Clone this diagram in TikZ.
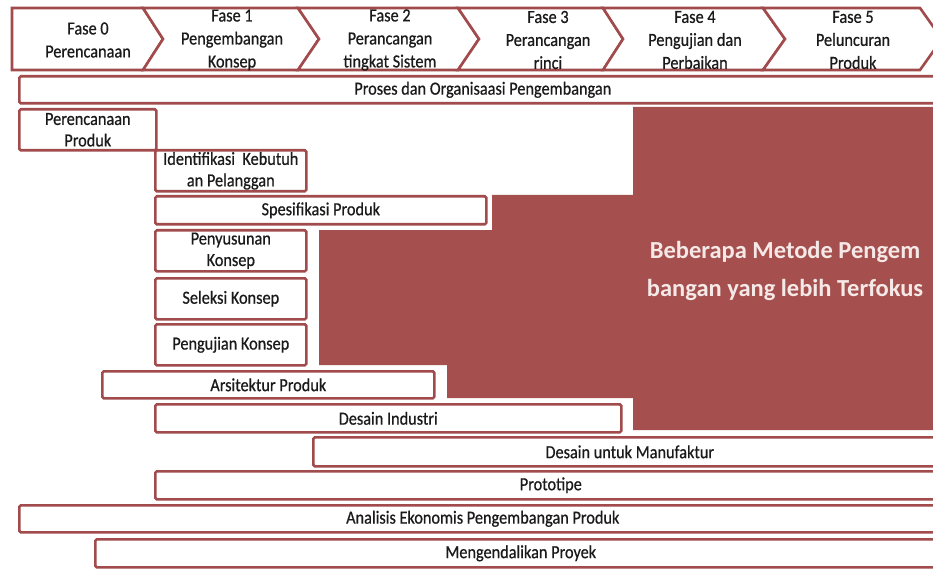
\documentclass[tikz,border=0pt]{standalone}
\usepackage{fontspec}
\setmainfont{Carlito}
\newfontfamily\condfont[FakeStretch=0.88,FakeBold=0.6]{Carlito}
\definecolor{bord}{HTML}{A24B4D}
\definecolor{redfill}{HTML}{A5504E}
\definecolor{txtw}{HTML}{F5E9E8}
\definecolor{txtk}{HTML}{1A1A1A}
\tikzset{
  box/.style={draw=bord, line width=2.6pt, fill=white, rounded corners=1.5pt,
    inner sep=0pt, font=\condfont\fontsize{18.5}{21.5}\selectfont, align=center, text=txtk,
    anchor=north west},
  chev/.style={draw=bord, line width=2.6pt, fill=white, line join=miter},
  chevtext/.style={font=\condfont\fontsize{18.5}{23}\selectfont, align=center, text=txtk, inner sep=0pt},
  bigtext/.style={font=\fontsize{24.5}{38}\selectfont\bfseries, align=center, text=txtw, inner sep=0pt}
}
\begin{document}
\begin{tikzpicture}[x=1pt,y=-1pt]
\clip (0,0) rectangle (933,569);
\fill[white] (0,0) rectangle (933,569);

% red focus area
\fill[redfill] (633,107) -- (940,107) -- (940,430) -- (633,430) -- (633,398)
  -- (447,398) -- (447,365) -- (319,365) -- (319,230) -- (492,230)
  -- (492,195) -- (633,195) -- cycle;
\node[bigtext] (focus) at (785,271) {Beberapa Metode Pengem\\bangan yang lebih Terfokus};

% phase chevrons
\draw[chev] (12,8) -- (143,8) -- (163,39) -- (143,70) -- (12,70) -- cycle;
\draw[chev] (143,8) -- (298,8) -- (319,39) -- (298,70) -- (143,70) -- (163,39) -- cycle;
\draw[chev] (298,8) -- (458,8) -- (479,39) -- (458,70) -- (298,70) -- (319,39) -- cycle;
\draw[chev] (458,8) -- (603,8) -- (623,39) -- (603,70) -- (458,70) -- (479,39) -- cycle;
\draw[chev] (603,8) -- (763,8) -- (785,39) -- (763,70) -- (603,70) -- (623,39) -- cycle;
\draw[chev] (763,8) -- (920,8) -- (942,39) -- (920,70) -- (763,70) -- (785,39) -- cycle;
\node[chevtext] (f0) at (88,40) {Fase 0\\Perencanaan};
\node[chevtext] (f1) at (232,40) {Fase 1\\Pengembangan\\Konsep};
\node[chevtext] (f2) at (390,40) {Fase 2\\Perancangan\\tingkat Sistem};
\node[chevtext] (f3) at (548,40) {Fase 3\\Perancangan\\rinci};
\node[chevtext] (f4) at (695,40) {Fase 4\\Pengujian dan\\Perbaikan};
\node[chevtext] (f5) at (853,40) {Fase 5\\Peluncuran\\Produk};

% activity boxes
\node[box, minimum width=927pt, minimum height=27pt] (proses) at (18,75) {Proses dan Organisaasi Pengembangan};
\node[box, minimum width=137pt, minimum height=41pt] (perenc) at (18,108) {Perencanaan\\Produk};
\node[box, minimum width=151pt, minimum height=41pt] (ident) at (154,149) {Identifikasi\ \ Kebutuh\\an Pelanggan};
\node[box, minimum width=331pt, minimum height=28pt] (spes) at (154,195) {Spesifikasi Produk};
\node[box, minimum width=151pt, minimum height=41pt] (penyus) at (154,229) {Penyusunan\\Konsep};
\node[box, minimum width=151pt, minimum height=41pt] (seleksi) at (154,277) {Seleksi Konsep};
\node[box, minimum width=151pt, minimum height=41pt] (penguj) at (154,323) {Pengujian Konsep};
\node[box, minimum width=332pt, minimum height=27pt] (arsi) at (101,370) {Arsitektur Produk};
\node[box, minimum width=466pt, minimum height=28pt] (desind) at (154,403) {Desain Industri};
\node[box, minimum width=633pt, minimum height=29pt] (desman) at (312,436) {Desain untuk Manufaktur};
\node[box, minimum width=791pt, minimum height=28pt] (proto) at (154,470) {Prototipe};
\node[box, minimum width=927pt, minimum height=27pt] (analisis) at (18,504) {Analisis Ekonomis Pengembangan Produk};
\node[box, minimum width=851pt, minimum height=28pt] (kendali) at (94,538) {Mengendalikan Proyek};
\end{tikzpicture}
\end{document}
